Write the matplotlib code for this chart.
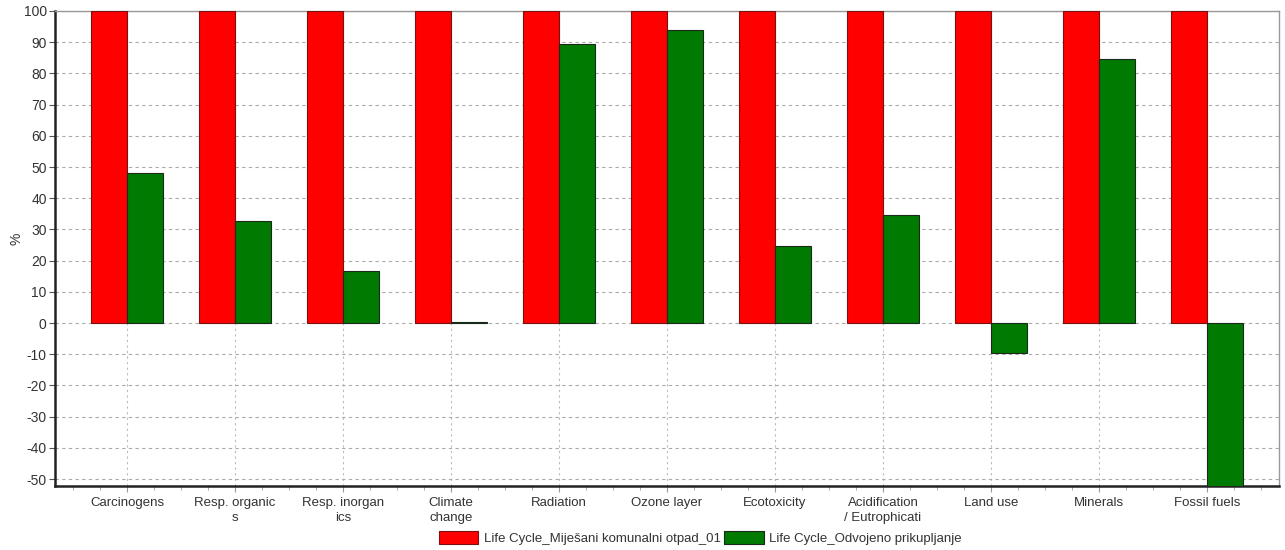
import matplotlib
matplotlib.use("Agg")
import matplotlib.pyplot as plt
import numpy as np
from matplotlib.ticker import MultipleLocator

categories = ["Carcinogens", "Resp. organic\ns", "Resp. inorgan\nics", "Climate\nchange",
              "Radiation", "Ozone layer", "Ecotoxicity", "Acidification\n/ Eutrophicati",
              "Land use", "Minerals", "Fossil fuels"]
mixed = [100, 100, 100, 100, 100, 100, 100, 100, 100, 100, 100]
separate = [48.0, 32.7, 16.7, 0.3, 89.3, 93.9, 24.7, 34.6, -9.6, 84.6, -53.0]
series_names = ["Life Cycle_Miješani komunalni otpad_01", "Life Cycle_Odvojeno prikupljanje"]

plt.rcParams['font.family'] = ['Liberation Sans', 'DejaVu Sans']
plt.rcParams['axes.unicode_minus'] = False
fig = plt.figure(figsize=(12.85, 5.5), dpi=100)
ax = fig.add_axes([0.0428, 0.1164, 0.9525, 0.8636])

x = np.arange(len(categories))
w = 1/3
ax.bar(x - w/2, mixed, w, color='#ff0000', edgecolor='#7a1010', linewidth=0.8,
       label=series_names[0], zorder=3)
ax.bar(x + w/2, separate, w, color='#007a00', edgecolor='#1a2a1a', linewidth=0.8,
       label=series_names[1], zorder=3)

ax.set_xlim(-0.667, len(categories) - 1 + 0.667)
ax.set_ylim(-52.2, 100)
ax.yaxis.set_major_locator(MultipleLocator(10))
ax.set_xticks(x)
ax.set_xticklabels(categories, fontsize=9.5, color='#333333', linespacing=1.3)
ax.xaxis.set_minor_locator(MultipleLocator(0.25))
ax.tick_params(axis='x', which='major', length=4, color='#999999', pad=4)
ax.tick_params(axis='x', which='minor', length=3, color='#999999')
ax.tick_params(axis='y', length=4, color='#555555', labelsize=10, labelcolor='#333333', pad=2)

ax.grid(True, axis='y', linestyle=(0, (3, 3)), color='#aaaaaa', linewidth=0.8, zorder=0)
ax.grid(True, axis='x', which='major', linestyle=(0, (2, 3)), color='#bbbbbb', linewidth=0.8, zorder=0)

for s in ['left', 'bottom']:
    ax.spines[s].set_color('#222222')
    ax.spines[s].set_linewidth(1.8)
for s in ['top', 'right']:
    ax.spines[s].set_color('#999999')
    ax.spines[s].set_linewidth(1.0)

ax.set_ylabel('%', fontsize=10, color='#333333')
ax.yaxis.set_label_coords(-0.026, 0.52)

fig.legend(loc='center', bbox_to_anchor=(0.545, 0.022), ncol=2, frameon=False,
           fontsize=9.5, handlelength=3.0, handleheight=1.1, handletextpad=0.4,
           columnspacing=0.3, labelcolor='#333333')

fig.savefig('out.png', dpi=100)
